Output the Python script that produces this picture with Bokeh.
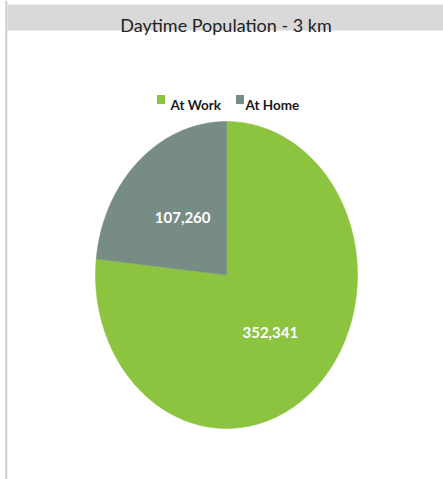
import numpy as np
from bokeh.plotting import figure
from bokeh.models import Range1d, ColumnDataSource
from bokeh.core.properties import value
from bokeh.embed import file_html
from bokeh.resources import INLINE

# ---- data ----
title_text = "Daytime Population - 3 km"
categories = ["At Work", "At Home"]
values = [352341, 107260]
colors = ["#8CC43F", "#788C86"]

# ---- layout constants (page pixel coordinates) ----
W, H = 443, 479
X0, Y0 = 0, 0
CX, CY = 226.0, 274.5
RX, RY = 131.0, 153.5

p = figure(width=W, height=H, x_range=Range1d(X0, X0 + W), y_range=Range1d(Y0 + H, Y0),
           output_backend="svg", toolbar_location=None, min_border=0)
p.axis.visible = False
p.grid.visible = False
p.outline_line_color = None
p.background_fill_color = "white"
p.border_fill_color = "white"

# left border line
p.segment(x0=[5.8], y0=[Y0], x1=[5.8], y1=[Y0 + H], line_color="#CFCFCF", line_width=2)

# title band
p.quad(left=[7], right=[X0 + W], top=[4], bottom=[30], fill_color="#D9D9D9", line_color=None)
p.text(x=[225.5], y=[24.5], text=[title_text], text_font=value("Lato"), text_font_size="18px",
       text_color="#222222", text_align="center", text_baseline="alphabetic")

# legend
leg_sq_x = [160.5, 239.5]
leg_tx_x = [170, 245]
p.rect(x=leg_sq_x, y=[99, 99], width=8, height=9, fill_color=colors, line_color=None)
p.text(x=leg_tx_x, y=[104, 104], text=categories, text_font=value("Lato"), text_font_style="bold",
       text_font_size="13.5px", text_color="#1A1A1A", text_align="left", text_baseline="alphabetic")

# pie (elliptical), clockwise from 12 o'clock
vals = np.array(values, dtype=float)
frac = vals / vals.sum()
cum = np.concatenate([[0.0], np.cumsum(frac)])
xs, ys, lx, ly, labels = [], [], [], [], []
for i in range(len(vals)):
    a0 = np.pi / 2 - 2 * np.pi * cum[i]
    a1 = np.pi / 2 - 2 * np.pi * cum[i + 1]
    t = np.linspace(a0, a1, 200)
    xs.append([CX] + list(CX + RX * np.cos(t)) + [CX])
    ys.append([CY] + list(CY - RY * np.sin(t)) + [CY])
    am = (a0 + a1) / 2
    lx.append(CX + 0.5 * RX * np.cos(am))
    ly.append(CY - 0.5 * RY * np.sin(am))
    labels.append(f"{int(vals[i]):,}")

src = ColumnDataSource(dict(xs=xs, ys=ys, color=colors))
p.patches(xs="xs", ys="ys", fill_color="color", line_color="color", line_width=0.5, source=src)

p.text(x=lx, y=ly, text=labels, text_font=value("Lato"), text_font_style="bold",
       text_font_size="15px", text_color="white", text_align="center", text_baseline="middle")

open("out.html", "w").write(file_html(p, INLINE))
